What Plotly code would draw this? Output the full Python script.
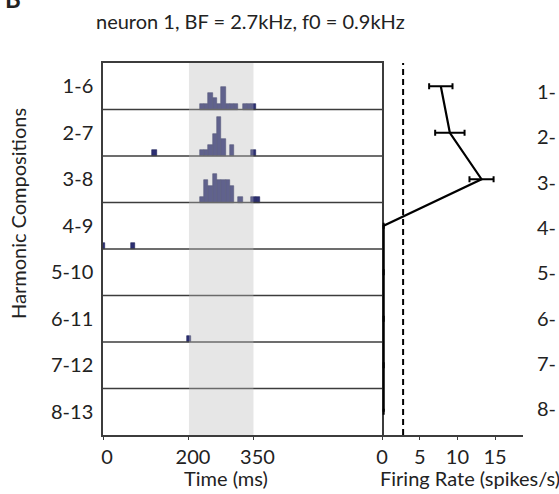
import plotly.graph_objects as go

# Harmonic composition conditions (top to bottom)
compositions = ["1-6", "2-7", "3-8", "4-9", "5-10", "6-11", "7-12", "8-13"]

# PSTH: left edge of each 10 ms bin (ms) and spike count in that bin, per condition
BIN_MS = 10
psth_bin_starts = [
    [225, 235, 245, 255, 265, 275, 285, 295, 305, 325, 335, 345],
    [115, 225, 235, 245, 255, 265, 275, 295, 345],
    [225, 235, 245, 255, 265, 275, 285, 295, 315, 345, 355],
    [-5, 65],
    [],
    [195],
    [],
    [],
]
psth_counts = [
    [1, 1, 3, 2, 1, 4, 1, 1, 1, 1, 1, 1],
    [1, 1, 1, 2, 4, 7, 3, 2, 1],
    [1, 4, 3, 5, 4, 4, 4, 3, 1, 1, 1],
    [1, 1],
    [],
    [1],
    [],
    [],
]

# Stimulus window (ms)
stim_on, stim_off = 200, 350
time_ticks = [0, 200, 350]

# Mean firing rate and error per condition (spikes/s)
rate_mean = [7.8, 9.0, 13.2, 0.22, 0.22, 0.22, 0.22, 0.22]
rate_err = [1.55, 1.95, 1.6, 0.0, 0.0, 0.0, 0.0, 0.0]
rate_threshold = 2.8
rate_ticks = [0, 5, 10, 15]

ROW_SPAN = 8.3          # count units allotted to each raster row
n_rows = len(compositions)
row_base = [(n_rows - 1 - i) * ROW_SPAN for i in range(n_rows)]
row_center = [b + ROW_SPAN / 2 for b in row_base]

FONT = "Lato, 'Open Sans', sans-serif"
TXT = "#222222"
AXC = "#3c3c3c"

# flatten histogram bars into one trace, each row stacked on its own base
bx, by, bb = [], [], []
for i in range(n_rows):
    for s, c in zip(psth_bin_starts[i], psth_counts[i]):
        bx.append(s)
        by.append(c)
        bb.append(row_base[i])

fig = go.Figure()
fig.add_trace(go.Bar(
    x=bx, y=by, base=bb, width=BIN_MS, offset=0,
    marker=dict(color="#2c2f72", line=dict(color="#1f2258", width=0.6)),
    xaxis="x", yaxis="y", showlegend=False,
))
fig.add_trace(go.Scatter(
    x=rate_mean, y=row_center, mode="lines",
    line=dict(color="black", width=2.2),
    error_x=dict(type="data", array=rate_err, color="black", thickness=2, width=3),
    xaxis="x2", yaxis="y", showlegend=False,
))

shapes = []
# row separators
for k in range(1, n_rows):
    shapes.append(dict(type="line", xref="x domain", yref="y", x0=0, x1=1,
                       y0=k * ROW_SPAN, y1=k * ROW_SPAN,
                       line=dict(color=AXC, width=1.5), layer="above"))
# stimulus window shading, laid over the bars
shapes.append(dict(type="rect", xref="x", yref="paper", x0=stim_on, x1=stim_off,
                   y0=0, y1=1, fillcolor="rgb(187,187,187)", opacity=0.37,
                   line=dict(width=0), layer="above"))
# spontaneous-rate threshold
shapes.append(dict(type="line", xref="x2", yref="paper", x0=rate_threshold,
                   x1=rate_threshold, y0=0, y1=1,
                   line=dict(color="black", width=2, dash="6px,4px")))

ann = [
    dict(text="neuron 1, BF = 2.7kHz, f0 = 0.9kHz", xref="paper", yref="paper",
         x=(250 - 103) / 420, y=(435 - 21) / 372, xanchor="center", yanchor="middle",
         showarrow=False, font=dict(size=20, color=TXT, family=FONT)),
    dict(text="Harmonic Compositions", xref="paper", yref="paper",
         x=(18 - 103) / 420, y=(435 - 214) / 372, textangle=-90, xanchor="center",
         yanchor="middle", showarrow=False, font=dict(size=20, color=TXT, family=FONT)),
    dict(text="Time (ms)", xref="paper", yref="paper",
         x=(226 - 103) / 420, y=(435 - 478) / 372, xanchor="center", yanchor="middle",
         showarrow=False, font=dict(size=20, color=TXT, family=FONT)),
    dict(text="Firing Rate (spikes/s)", xref="paper", yref="paper",
         x=(470 - 103) / 420, y=(435 - 478) / 372, xanchor="center", yanchor="middle",
         showarrow=False, font=dict(size=20, color=TXT, family=FONT)),
    dict(text="<b>B</b>", xref="paper", yref="paper",
         x=(3 - 103) / 420, y=(435 - 15) / 372, xanchor="left", yanchor="bottom",
         showarrow=False, font=dict(size=24, color=TXT, family=FONT)),
]
# row labels of the neighbouring panel
for i in range(n_rows):
    ann.append(dict(text=compositions[i].split("-")[0] + "-", xref="paper", yref="paper",
                    x=(558 - 103) / 420, y=(435 - (91 + 45.3 * i)) / 372,
                    xanchor="right", yanchor="middle", showarrow=False,
                    font=dict(size=20, color=TXT, family=FONT)))

fig.update_layout(
    width=559, height=494,
    margin=dict(l=103, r=36, t=63, b=59),
    paper_bgcolor="white", plot_bgcolor="rgba(0,0,0,0)",
    bargap=0,
    font=dict(family=FONT, color=TXT, size=20),
    xaxis=dict(domain=[0, 279 / 420], range=[0, 649], tickvals=time_ticks,
               showgrid=False, zeroline=False, showline=True, linecolor=AXC,
               linewidth=1.5, mirror=True, ticks="outside", ticklen=3,
               tickcolor=AXC, ticklabelshift=4, tickfont=dict(size=20, color=TXT)),
    xaxis2=dict(domain=[279 / 420, 1], range=[0, 18.7], anchor="y",
                tickvals=rate_ticks, showgrid=False, zeroline=False, showline=True,
                linecolor=AXC, linewidth=1.5, ticks="outside", ticklen=3,
                tickcolor=AXC, tickfont=dict(size=20, color=TXT)),
    yaxis=dict(domain=[0, 1], range=[0, n_rows * ROW_SPAN], tickvals=row_center,
               ticktext=compositions, showgrid=False, zeroline=False, showline=True,
               linecolor=AXC, linewidth=1.5, mirror=True, ticks="",
               ticklabelstandoff=4, tickfont=dict(size=20, color=TXT)),
    shapes=shapes,
    annotations=ann,
)

fig.write_html("out.html")
